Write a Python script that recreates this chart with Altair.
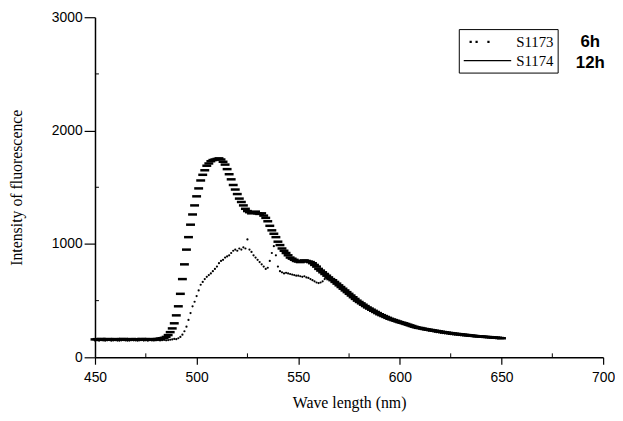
import altair as alt
import pandas as pd

# ---------------- data ----------------
wavelength = list(range(450, 651))

# S1173 (6h) - dotted series
s1173 = [
    148, 150, 146, 151, 149, 147, 150, 152, 146, 149,   # 450-459
    151, 148, 147, 150, 152, 149, 146, 148, 151, 150,   # 460-469
    149, 147, 150, 152, 148, 150, 147, 151, 149, 148,   # 470-479
    150, 152, 149, 151, 153, 150, 152, 155, 158, 162,   # 480-489
    160, 168, 180, 200, 230, 270, 330, 390, 450, 490,   # 490-499
    540, 590, 640, 665, 690, 710, 725, 740, 760, 780,   # 500-509
    800, 830, 850, 860, 880, 890, 900, 920, 940, 950,   # 510-519
    940, 960, 950, 970, 960, 1040, 950, 930, 900, 880,  # 520-529
    860, 840, 820, 800, 780, 790, 850, 920, 980, 900,   # 530-539
    800, 760, 750, 740, 745, 740, 735, 730, 725, 720,   # 540-549
    720, 715, 710, 715, 705, 700, 690, 680, 670, 660,   # 550-559
    655, 660, 670, 690, 700, 710, 700, 690, 670, 650,   # 560-569
    630, 612, 598, 582, 566, 552, 536, 522, 508, 494,   # 570-579
    480, 470, 458, 446, 434, 424, 412, 402, 392, 384,   # 580-589
    374, 366, 358, 350, 342, 336, 328, 322, 316, 310,   # 590-599
    304, 298, 294, 288, 282, 276, 272, 266, 262, 258,   # 600-609
    252, 248, 244, 240, 236, 233, 230, 226, 222, 220,   # 610-619
    216, 214, 212, 210, 206, 204, 202, 200, 198, 196,   # 620-629
    194, 192, 190, 188, 187, 186, 184, 183, 182, 181,   # 630-639
    180, 179, 178, 177, 176, 176, 175, 174, 174, 173,   # 640-649
    172,                                                # 650
]

# S1174 (12h) - dashed series
s1174 = [
    158, 160, 156, 162, 159, 157, 161, 160, 156, 158,   # 450-459
    161, 159, 157, 160, 162, 158, 156, 159, 161, 158,   # 460-469
    160, 157, 159, 162, 158, 160, 157, 161, 159, 158,   # 470-479
    160, 162, 165, 168, 172, 180, 196, 222, 255, 300,   # 480-489
    370, 450, 560, 690, 820, 950, 1060, 1170, 1260, 1340,  # 490-499
    1420, 1490, 1560, 1610, 1650, 1690, 1710, 1730, 1740, 1745,  # 500-509
    1750, 1755, 1745, 1725, 1700, 1660, 1615, 1570, 1520, 1480,  # 510-519
    1440, 1400, 1370, 1340, 1310, 1290, 1280, 1270, 1275, 1285,  # 520-529
    1270, 1265, 1270, 1250, 1230, 1200, 1160, 1120, 1090, 1060,  # 530-539
    1020, 990, 960, 940, 920, 900, 880, 870, 860, 850,  # 540-549
    845, 840, 850, 855, 850, 845, 840, 830, 815, 800,   # 550-559
    780, 765, 750, 735, 720, 705, 690, 680, 665, 650,   # 560-569
    635, 620, 605, 590, 575, 560, 545, 530, 515, 500,   # 570-579
    488, 476, 464, 452, 440, 430, 420, 410, 400, 390,   # 580-589
    380, 372, 364, 356, 348, 340, 334, 328, 322, 316,   # 590-599
    310, 305, 300, 294, 288, 282, 276, 270, 265, 260,   # 600-609
    258, 254, 250, 247, 244, 241, 238, 235, 232, 229,   # 610-619
    226, 223, 220, 218, 215, 213, 210, 208, 206, 204,   # 620-629
    202, 200, 198, 196, 194, 192, 190, 188, 186, 185,   # 630-639
    184, 182, 180, 179, 178, 176, 175, 173, 172, 170,   # 640-649
    168,                                                # 650
]

series_names = ["S1173", "S1174"]
hours = ["6h", "12h"]
x_ticks = [450, 500, 550, 600, 650, 700]
x_minor = [475, 525, 575, 625, 675]
y_ticks = [0, 1000, 2000, 3000]
y_minor = [500, 1500, 2500]

assert len(s1173) == len(wavelength) == len(s1174)

df = pd.DataFrame({
    "wl": wavelength * 2,
    "val": s1173 + s1174,
    "series": [series_names[0]] * len(s1173) + [series_names[1]] * len(s1174),
})

# ---------------- styling ----------------
W, H = 514, 344
SERIF = "Liberation Serif"
SANS = "Liberation Sans"

# legend symbols: symbolSize 256 -> unit = 8 px; paths run past the unit box
# so the sample is 48 px long while the legend rows stay 16 px tall
DOTS = ("M-0.185,-0.06h0.12v0.12h-0.12z "
        "M0.565,-0.06h0.12v0.12h-0.12z "
        "M2.065,-0.06h0.12v0.12h-0.12z")
LINE = "M-1,0H5"

xscale = alt.Scale(domain=[450, 700], nice=False, zero=False)
yscale = alt.Scale(domain=[0, 3000], nice=False)

x_axis = alt.Axis(values=x_ticks, format="d", tickSize=7, labelPadding=6,
                  labelFlush=False,
                  labelFont=SANS, labelFontSize=14, labelColor="black",
                  title="Wave length (nm)", titleFont=SERIF, titleFontSize=16,
                  titleFontWeight="normal", titleColor="black",
                  titleX=W / 2, titleY=46, titleBaseline="middle",
                  titleAlign="center")
y_axis = alt.Axis(values=y_ticks, format="d", tickSize=11, labelPadding=2,
                  labelFlush=False,
                  labelFont=SANS, labelFontSize=14, labelColor="black",
                  title="Intensity of fluorescence", titleFont=SERIF,
                  titleFontSize=16, titleFontWeight="normal", titleColor="black",
                  titleX=-79, titleY=H / 2, titleAngle=270,
                  titleBaseline="middle", titleAlign="center")

base = alt.Chart(df)
X = alt.X("wl:Q", scale=xscale, axis=x_axis)
Y = alt.Y("val:Q", scale=yscale, axis=y_axis)

dots = base.transform_filter(alt.datum.series == series_names[0]).mark_point(
    shape="circle", filled=True, color="black", size=5, opacity=1
).encode(x=X, y=Y)

dashes = base.transform_filter(alt.datum.series == series_names[1]).mark_point(
    shape="stroke", filled=False, color="black", strokeWidth=2.5, size=81,
    opacity=1
).encode(x=X, y=Y)

# legend-only layer (no rows pass the filter; entries come from the domain)
legend_layer = base.transform_filter(alt.datum.wl < 0).mark_point(
    filled=False, color="black", strokeWidth=1.3, opacity=1
).encode(
    x=X, y=Y,
    shape=alt.Shape(
        "series:N",
        scale=alt.Scale(domain=series_names, range=[DOTS, LINE]),
        legend=alt.Legend(
            title=None, orient="none", legendX=368, legendY=12,
            strokeColor="black", fillColor="white", padding=4,
            symbolSize=256, symbolStrokeWidth=1.3,
            symbolStrokeColor="black", symbolOpacity=1,
            labelFont=SERIF, labelFontSize=15, labelColor="black",
            labelOffset=36, rowPadding=2,
        ),
    ),
)

xminor = alt.Chart(pd.DataFrame({"wl": x_minor})).mark_rule(
    color="black", strokeWidth=1
).encode(x=X, y=alt.value(H), y2=alt.value(H - 4))
yminor = alt.Chart(pd.DataFrame({"val": y_minor})).mark_rule(
    color="black", strokeWidth=1
).encode(y=Y, x=alt.value(0), x2=alt.value(4))

h6 = alt.Chart(pd.DataFrame({"h": [hours[0]]})).mark_text(
    font=SANS, fontSize=17, fontWeight="bold", color="black",
    align="center", baseline="middle"
).encode(text="h:N", x=alt.value(501), y=alt.value(25))
h12 = alt.Chart(pd.DataFrame({"h": [hours[1]]})).mark_text(
    font=SANS, fontSize=17, fontWeight="bold", color="black",
    align="center", baseline="middle"
).encode(text="h:N", x=alt.value(501), y=alt.value(46))

chart = alt.layer(dots, dashes, legend_layer, xminor, yminor, h6, h12).properties(
    width=W, height=H,
    autosize=alt.AutoSizeParams(type="none"),
    padding={"left": 88, "top": 7, "right": 12, "bottom": 54},
).configure_view(stroke=None).configure_axis(
    grid=False, domainColor="black", domainWidth=1.5, tickColor="black",
    tickWidth=1.2
)

chart.save("out.html", embed_options={"renderer": "svg", "actions": False})
